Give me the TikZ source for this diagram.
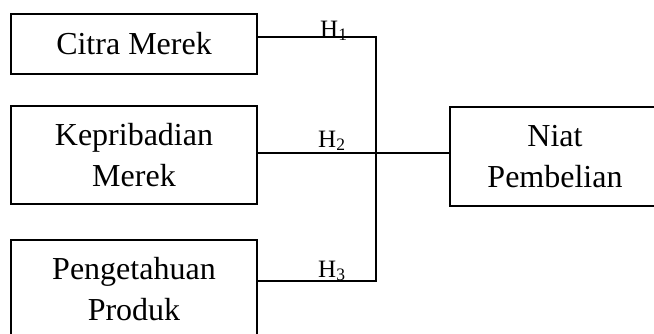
\documentclass[tikz,border=0pt]{standalone}
\usepackage{fontspec}
\setmainfont{Liberation Serif}
\usetikzlibrary{positioning, calc}
\tikzset{
  model/.style={
	x=1pt, y=-1pt, % one unit is one pixel of the layout
	every node/.style={font=\fontsize{32}{41}\selectfont},
  },
  konstruk/.style={draw, line width=1.2pt, align=center, minimum width=246pt, inner sep=0pt}, % variable boxes
  jalur/.style={line width=2pt}, % hypothesis paths
  hipotesis/.style={font=\fontsize{25}{25}\selectfont, anchor=base west, inner sep=0pt}, % H labels
}
\begin{document}
\begin{tikzpicture}[model]
	  \clip (0,0) rectangle (654,333);
	  \node[konstruk, minimum height=60pt] (citra) at (134,44) {Citra Merek};
	  \node[konstruk, minimum height=98pt] (kepribadian) at (134,155) {Kepribadian\\Merek};
	  \node[konstruk, minimum height=98pt] (pengetahuan) at (134,289) {Pengetahuan\\Produk};
	  \node[konstruk, minimum width=210pt, minimum height=99pt] (niat) at (555,156.5) {Niat\\Pembelian};

	  \coordinate (j1) at (376,37);
	  \coordinate (j2) at (376,153);
	  \coordinate (j3) at (376,281);

	  \draw[jalur] (citra.east |- j1) -- (j1) -- (j3) -- (pengetahuan.east |- j3);
	  \draw[jalur] (kepribadian.east |- j2) -- (niat.west |- j2);

	  \node[hipotesis] (h1) at (320,37) {H\textsubscript{1}};
	  \node[hipotesis] (h2) at (318,147) {H\textsubscript{2}};
	  \node[hipotesis] (h3) at (318,277) {H\textsubscript{3}};
\end{tikzpicture}
\end{document}
